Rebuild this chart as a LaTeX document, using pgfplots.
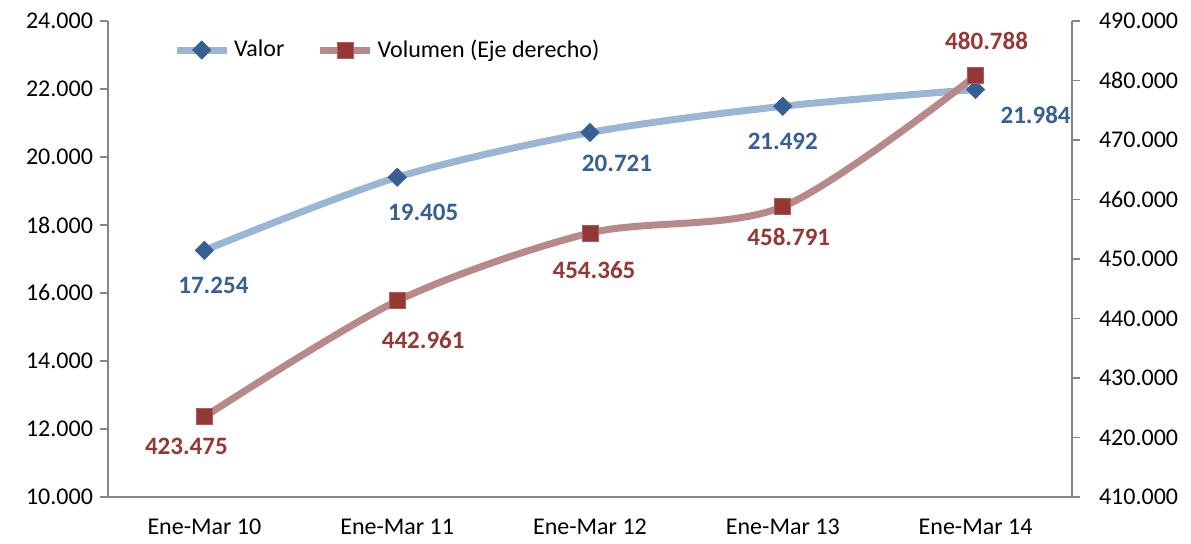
\documentclass[border=0pt]{standalone}
\usepackage{fontspec}
\setmainfont{Carlito}
\usepackage{pgfplots}
\pgfplotsset{compat=1.18}

\definecolor{valorline}{RGB}{155,181,212}
\definecolor{valormark}{RGB}{55,96,146}
\definecolor{volline}{RGB}{183,138,137}
\definecolor{volmark}{RGB}{149,55,53}
\definecolor{axisgray}{RGB}{134,134,134}

% x, y, label offsets in pt
\pgfplotstableread{
x y dx dy
0 17254 4.5 -17.5
1 19405 13 -17.5
2 20721 13.5 -15.5
3 21492 0 -17.5
4 21984 30 -12.5
}\valor
\pgfplotstableread{
x y dx dy
0 423475 -9 -15
1 442961 13 -19.5
2 454365 2 -18.5
3 458791 3 -15
4 480788 5.5 17.5
}\volumen

\pgfplotsset{
  base/.style={
    scale only axis, width=482pt, height=238pt,
    xmin=-0.5, xmax=4.5,
    axis line style={axisgray, line width=0.6pt},
    tick style={axisgray, line width=0.6pt},
    tick align=outside,
    major tick length=4pt, minor tick length=4pt,
    scaled y ticks=false,
    /pgf/number format/.cd, fixed, precision=0, 1000 sep={.}, assume math mode=true, /pgfplots/.cd,
    tick label style={font=\fontsize{12}{14}\selectfont},
    visualization depends on={\thisrow{dx}\as\dx},
    visualization depends on={\thisrow{dy}\as\dy},
    nodes near coords style={font=\fontsize{12.5}{14}\selectfont\bfseries, anchor=center,
      xshift=\dx pt, yshift=\dy pt},
  },
  legend image code/.code={%
    \draw[mark repeat=2, mark phase=2] plot coordinates {(0pt,0pt)(12.5pt,0pt)(25pt,0pt)};},
}

\begin{document}
\begin{tikzpicture}
\begin{axis}[base,
  axis x line*=bottom, axis y line*=left,
  ymin=10000, ymax=24000, ytick={10000,12000,...,24000},
  xtick={0,1,2,3,4},
  xticklabels={Ene-Mar 10,Ene-Mar 11,Ene-Mar 12,Ene-Mar 13,Ene-Mar 14},
  minor xtick={-0.5,0.5,1.5,2.5,3.5,4.5},
  xtick style={draw=none},
  x tick label style={yshift=-3.5pt},
]
\addplot[valorline, line width=3.5pt, smooth, tension=0.5,
  mark=square*, mark size=3.2pt,
  mark options={rotate=45, fill=valormark, draw=valormark, line width=0.4pt},
  nodes near coords, every node near coord/.append style={text=valormark}]
  table[x=x, y=y] {\valor};
\end{axis}
\begin{axis}[base,
  axis x line=none, axis y line*=right,
  ymin=410000, ymax=490000, ytick={410000,420000,...,490000},
  y tick label style={xshift=6pt},
  legend style={draw=none, fill=none, at={(0.061,0.939)}, anchor=west,
    legend columns=2, font=\fontsize{12}{14}\selectfont,
    /tikz/every even column/.append style={column sep=14pt}},
  legend cell align=left,
]
\addlegendimage{valorline, line width=3.5pt, mark=square*, mark size=3.2pt,
  mark options={rotate=45, fill=valormark, draw=valormark, line width=0.4pt}}
\addlegendentry{Valor}
\addplot[volline, line width=3.5pt, smooth, tension=0.5,
  mark=square*, mark size=4pt,
  mark options={fill=volmark, draw=volmark!80!white, line width=0.4pt},
  nodes near coords, every node near coord/.append style={text=volmark}]
  table[x=x, y=y] {\volumen};
\addlegendentry{Volumen (Eje derecho)}
\end{axis}
\pgfresetboundingbox
\path (-54pt,-23.5pt) rectangle (541.5pt,248.5pt);
\end{tikzpicture}
\end{document}
